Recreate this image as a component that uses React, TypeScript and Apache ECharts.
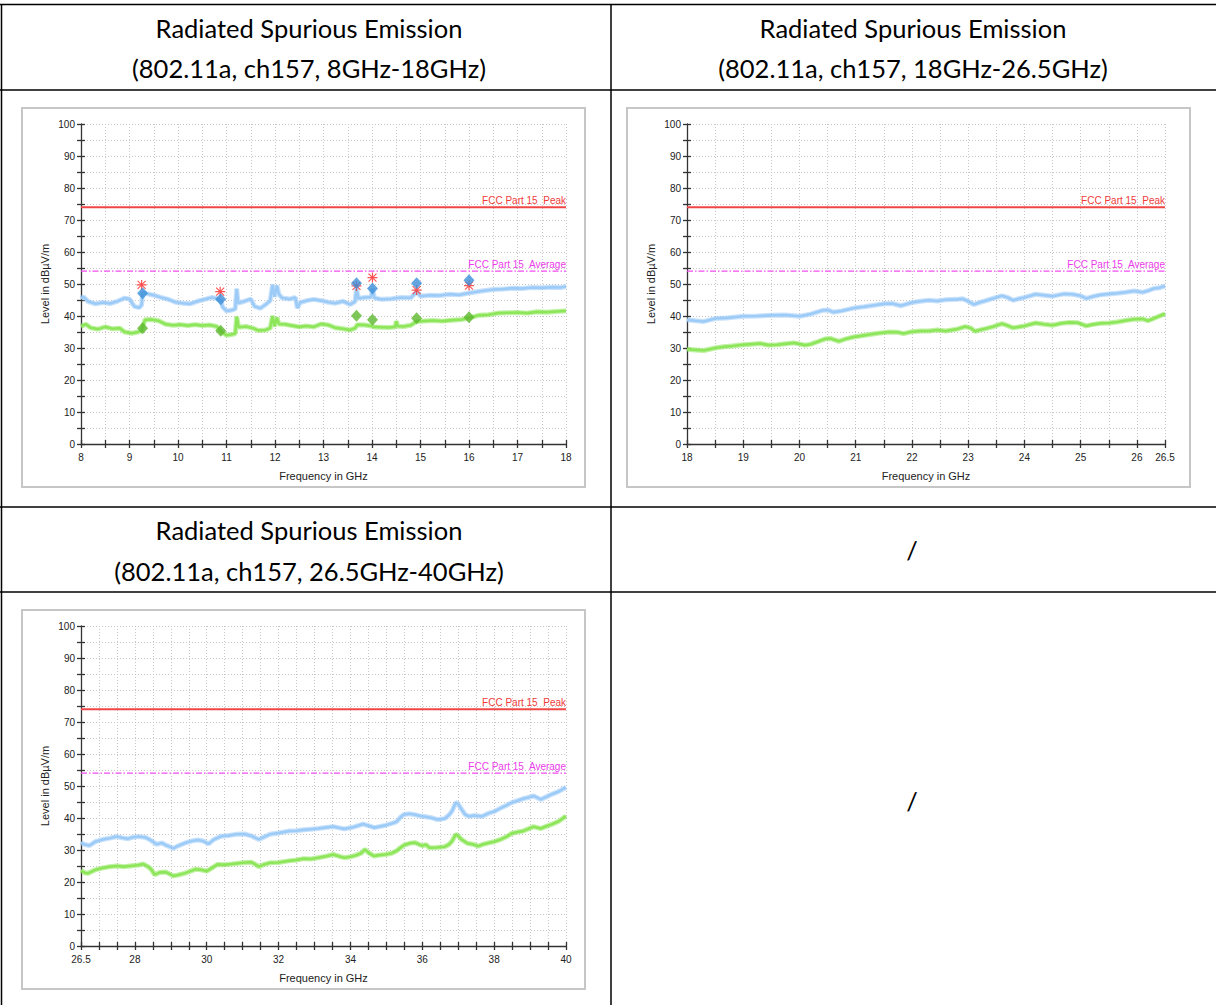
import { useEffect, useRef } from "react";
import * as echarts from "echarts";

// ---------- limits (dBµV/m) ----------
const peakLimit = 74;
const avgLimit = 54;
const peakLimitName = "FCC Part 15  Peak";
const avgLimitName = "FCC Part 15  Average";

// ---------- tick labels ----------
const levelLabels = [0, 10, 20, 30, 40, 50, 60, 70, 80, 90, 100];
const band1FreqLabels = [8, 9, 10, 11, 12, 13, 14, 15, 16, 17, 18];
const band2FreqLabels = [18, 19, 20, 21, 22, 23, 24, 25, 26, 26.5];
const band3FreqLabels = [26.5, 28, 30, 32, 34, 36, 38, 40];

// ---------- 8 GHz - 18 GHz ----------
const band1Peak: [number, number][] = [
  [8.0, 45.5], [8.05, 46.0], [8.15, 44.5], [8.3, 43.8], [8.45, 44.2], [8.6, 43.9], [8.75, 44.6],
  [8.9, 45.6], [9.0, 45.3], [9.1, 43.0], [9.2, 42.6], [9.25, 43.5], [9.27, 47.3], [9.35, 47.0],
  [9.5, 46.5], [9.65, 45.8], [9.8, 45.2], [9.95, 44.3], [10.1, 44.0], [10.25, 43.8], [10.4, 44.6],
  [10.55, 45.2], [10.7, 45.8], [10.8, 45.5], [10.86, 44.8], [10.88, 45.2], [10.92, 42.8], [11.0, 41.6],
  [11.1, 41.8], [11.18, 42.2], [11.21, 48.5], [11.24, 44.0], [11.35, 44.5], [11.5, 45.3], [11.58, 43.0],
  [11.7, 42.4], [11.8, 43.5], [11.9, 44.8], [11.95, 49.8], [11.99, 46.0], [12.04, 49.5], [12.08, 46.8],
  [12.15, 45.6], [12.3, 45.3], [12.42, 45.8], [12.46, 42.5], [12.52, 44.2], [12.65, 44.8], [12.8, 45.2],
  [12.95, 44.8], [13.1, 44.3], [13.25, 44.0], [13.4, 44.6], [13.55, 43.6], [13.65, 44.5], [13.68, 48.5],
  [13.72, 45.5], [13.85, 45.8], [13.98, 45.9], [14.01, 48.6], [14.05, 45.6], [14.2, 45.2], [14.4, 45.4],
  [14.6, 45.8], [14.8, 45.7], [14.92, 47.5], [15.0, 46.2], [15.2, 46.5], [15.4, 46.4], [15.6, 46.8],
  [15.8, 46.6], [16.0, 47.2], [16.1, 47.4], [16.3, 47.9], [16.5, 48.3], [16.7, 48.4], [16.9, 48.7],
  [17.1, 48.6], [17.3, 48.9], [17.5, 48.8], [17.7, 49.0], [17.9, 48.9], [18.0, 49.2],
];
const band1Avg: [number, number][] = [
  [8.0, 36.8], [8.1, 37.4], [8.2, 36.3], [8.35, 35.9], [8.5, 36.6], [8.65, 36.0], [8.8, 36.2],
  [8.9, 35.0], [9.05, 34.6], [9.15, 34.9], [9.25, 35.4], [9.27, 36.5], [9.32, 38.8], [9.45, 38.9],
  [9.6, 38.5], [9.75, 37.4], [9.9, 37.1], [10.05, 37.3], [10.2, 37.0], [10.35, 37.3], [10.5, 37.0],
  [10.65, 37.2], [10.8, 36.7], [10.86, 35.8], [10.9, 35.0], [11.0, 34.0], [11.1, 34.2], [11.18, 34.5],
  [11.21, 39.8], [11.25, 36.5], [11.4, 36.7], [11.55, 36.2], [11.65, 35.5], [11.8, 35.6], [11.9, 36.2],
  [11.95, 40.0], [11.99, 36.8], [12.04, 39.5], [12.08, 37.5], [12.2, 37.4], [12.35, 37.0], [12.5, 36.6],
  [12.65, 36.9], [12.8, 36.6], [12.95, 37.5], [13.1, 37.2], [13.25, 36.3], [13.4, 36.0], [13.54, 35.6],
  [13.65, 36.2], [13.7, 37.3], [13.85, 37.2], [13.98, 36.9], [14.05, 36.6], [14.2, 36.5], [14.35, 36.4],
  [14.48, 36.6], [14.5, 38.4], [14.53, 36.8], [14.65, 36.7], [14.8, 37.1], [14.92, 38.3], [15.05, 38.4],
  [15.25, 38.6], [15.45, 38.4], [15.65, 38.7], [15.85, 38.9], [16.0, 39.4], [16.2, 40.2], [16.4, 40.4],
  [16.6, 40.9], [16.8, 41.0], [17.0, 41.1], [17.2, 40.9], [17.4, 41.3], [17.6, 41.2], [17.8, 41.4],
  [18.0, 41.6],
];
// final measurement markers
const band1PeakStars: [number, number][] = [
  [9.25, 49.7], [10.87, 47.6], [13.68, 49.4], [14.01, 52.0], [14.92, 48.1], [16.0, 49.5],
];
const band1PeakFinal: [number, number][] = [
  [9.27, 47.1], [10.88, 45.2], [13.68, 50.2], [14.01, 48.6], [14.92, 50.2], [16.0, 51.2],
];
const band1AvgFinal: [number, number][] = [
  [9.27, 36.2], [10.88, 35.4], [13.68, 40.1], [14.01, 38.8], [14.92, 39.3], [16.0, 39.6],
];

// ---------- 18 GHz - 26.5 GHz ----------
const band2Peak: [number, number][] = [
  [18.0, 38.8], [18.15, 38.5], [18.3, 38.3], [18.5, 39.2], [18.7, 39.4], [19.0, 39.9], [19.25, 40.0],
  [19.5, 40.2], [19.75, 40.3], [20.0, 39.9], [20.2, 40.6], [20.4, 41.7], [20.5, 41.9], [20.6, 41.2],
  [20.75, 41.6], [21.0, 42.6], [21.15, 42.9], [21.3, 43.3], [21.5, 43.8], [21.65, 43.9], [21.8, 43.2],
  [22.0, 44.2], [22.15, 44.6], [22.3, 44.9], [22.45, 44.7], [22.6, 45.1], [22.8, 45.2], [22.9, 45.4],
  [23.0, 44.6], [23.1, 43.6], [23.2, 44.2], [23.35, 45.0], [23.5, 45.8], [23.6, 46.3], [23.7, 45.8],
  [23.8, 44.9], [23.9, 45.4], [24.0, 45.8], [24.2, 46.8], [24.35, 46.5], [24.5, 46.2], [24.7, 46.9],
  [24.85, 46.8], [25.0, 46.3], [25.1, 45.5], [25.2, 46.0], [25.35, 46.6], [25.5, 46.9], [25.65, 47.1],
  [25.8, 47.4], [25.95, 47.8], [26.1, 47.4], [26.2, 47.9], [26.3, 48.6], [26.4, 48.8], [26.5, 49.4],
];
const band2Avg: [number, number][] = [
  [18.0, 29.6], [18.15, 29.4], [18.3, 29.2], [18.5, 30.0], [18.65, 30.4], [18.8, 30.6], [19.0, 31.0],
  [19.15, 31.2], [19.3, 31.4], [19.45, 30.9], [19.6, 31.0], [19.75, 31.3], [19.9, 31.6], [20.1, 30.9],
  [20.2, 31.2], [20.3, 31.8], [20.45, 32.8], [20.55, 33.0], [20.7, 32.1], [20.8, 32.7], [20.95, 33.4],
  [21.1, 33.8], [21.25, 34.2], [21.4, 34.6], [21.6, 35.0], [21.75, 34.9], [21.85, 34.5], [22.0, 35.1],
  [22.15, 35.3], [22.3, 35.3], [22.45, 35.6], [22.6, 35.3], [22.8, 35.9], [22.95, 36.7], [23.05, 36.2],
  [23.12, 35.2], [23.2, 35.6], [23.3, 36.0], [23.45, 36.7], [23.6, 37.6], [23.7, 37.0], [23.8, 36.3],
  [23.9, 36.6], [24.0, 36.9], [24.2, 37.8], [24.35, 37.4], [24.5, 37.1], [24.65, 37.7], [24.8, 38.0],
  [24.95, 37.9], [25.1, 36.9], [25.2, 37.3], [25.35, 37.7], [25.5, 37.8], [25.65, 38.1], [25.8, 38.6],
  [25.95, 39.0], [26.1, 39.1], [26.2, 38.5], [26.35, 39.6], [26.5, 40.7],
];

// ---------- 26.5 GHz - 40 GHz ----------
const band3Peak: [number, number][] = [
  [26.5, 32.3], [26.6, 31.7], [26.74, 31.4], [26.9, 32.6], [27.1, 33.3], [27.3, 33.7], [27.5, 34.2],
  [27.65, 33.8], [27.8, 33.5], [27.95, 34.0], [28.1, 34.2], [28.3, 33.9], [28.45, 33.0], [28.6, 31.8],
  [28.75, 32.2], [28.86, 31.5], [29.0, 30.9], [29.07, 30.5], [29.2, 31.3], [29.4, 32.2], [29.58, 32.8],
  [29.75, 33.1], [29.9, 32.8], [30.05, 31.9], [30.2, 33.3], [30.4, 34.3], [30.6, 34.5], [30.83, 34.9],
  [31.05, 35.0], [31.24, 34.4], [31.45, 33.3], [31.6, 34.1], [31.76, 34.9], [32.0, 35.3], [32.28, 35.9],
  [32.5, 36.0], [32.7, 36.3], [32.9, 36.5], [33.1, 36.7], [33.3, 37.0], [33.52, 37.3], [33.7, 36.9],
  [33.83, 36.6], [34.1, 37.2], [34.35, 38.1], [34.5, 37.6], [34.66, 37.0], [34.8, 37.3], [34.97, 37.7],
  [35.15, 38.3], [35.28, 38.8], [35.4, 40.3], [35.49, 41.1], [35.65, 41.3], [35.8, 41.0], [35.95, 40.6],
  [36.1, 40.4], [36.25, 40.1], [36.42, 39.5], [36.62, 39.8], [36.75, 41.0], [36.83, 42.2], [36.93, 44.8],
  [36.99, 44.5], [37.1, 42.6], [37.19, 41.1], [37.3, 40.5], [37.45, 40.8], [37.66, 40.5], [37.87, 41.6],
  [38.0, 42.0], [38.18, 43.1], [38.35, 44.0], [38.49, 44.8], [38.65, 45.4], [38.8, 46.0], [38.95, 46.4],
  [39.1, 46.9], [39.3, 45.8], [39.45, 46.6], [39.6, 47.4], [39.8, 48.3], [40.0, 49.6],
];
const band3Avg: [number, number][] = [
  [26.5, 23.6], [26.6, 22.9], [26.69, 22.7], [26.9, 23.8], [27.1, 24.4], [27.3, 24.8], [27.5, 25.0],
  [27.7, 24.8], [27.93, 25.1], [28.1, 25.3], [28.24, 25.6], [28.35, 24.9], [28.45, 24.0], [28.55, 22.3],
  [28.7, 23.0], [28.86, 23.1], [29.0, 22.3], [29.07, 21.9], [29.2, 22.2], [29.38, 22.7], [29.55, 23.4],
  [29.69, 24.0], [29.85, 23.8], [30.0, 23.4], [30.15, 24.4], [30.3, 25.5], [30.5, 25.4], [30.7, 25.6],
  [30.83, 25.8], [31.0, 26.0], [31.24, 26.2], [31.4, 25.2], [31.45, 24.8], [31.6, 25.5], [31.76, 26.0],
  [32.0, 26.1], [32.28, 26.6], [32.5, 26.9], [32.7, 27.3], [32.9, 27.2], [33.1, 27.6], [33.3, 28.0],
  [33.52, 28.6], [33.7, 28.0], [33.83, 27.6], [34.0, 27.9], [34.14, 28.3], [34.3, 29.0], [34.4, 30.2],
  [34.5, 29.2], [34.66, 28.1], [34.8, 28.4], [34.97, 28.6], [35.15, 29.0], [35.28, 29.7], [35.4, 30.8],
  [35.49, 31.5], [35.65, 32.1], [35.8, 32.3], [35.9, 31.8], [36.0, 31.3], [36.1, 31.7], [36.2, 30.7],
  [36.4, 30.8], [36.62, 31.0], [36.75, 31.8], [36.83, 32.8], [36.93, 34.9], [37.0, 34.4], [37.09, 33.3],
  [37.25, 32.1], [37.4, 31.8], [37.56, 31.2], [37.7, 31.8], [37.87, 32.3], [38.0, 32.6], [38.18, 33.3],
  [38.35, 34.2], [38.49, 35.2], [38.65, 35.6], [38.8, 35.9], [38.95, 36.6], [39.1, 37.3], [39.3, 36.7],
  [39.45, 37.4], [39.6, 38.0], [39.8, 39.0], [40.0, 40.6],
];

// ---------- table text ----------
const captionTitle = "Radiated Spurious Emission";
const captionBand1 = "(802.11a, ch157, 8GHz-18GHz)";
const captionBand2 = "(802.11a, ch157, 18GHz-26.5GHz)";
const captionBand3 = "(802.11a, ch157, 26.5GHz-40GHz)";
const emptyCell = "/";

const W = 1216;
const H = 1005;

const AXIS_FONT = "'Liberation Sans', Arial, sans-serif";
const CAPTION_FONT = "Lato, 'Open Sans', sans-serif";
const PEAK_TRACE = "#9ccbf7";
const AVG_TRACE = "#8de65a";

type Panel = {
  grid: { left: number; top: number; width: number; height: number };
  frame: [number, number, number, number];
  xMin: number;
  xMax: number;
  xLabels: number[];
  peak: [number, number][];
  avg: [number, number][];
  stars?: [number, number][];
  peakFinal?: [number, number][];
  avgFinal?: [number, number][];
};

const panels: Panel[] = [
  {
    grid: { left: 81, top: 124, width: 485, height: 320 },
    frame: [22, 108, 563, 379],
    xMin: 8, xMax: 18, xLabels: band1FreqLabels,
    peak: band1Peak, avg: band1Avg,
    stars: band1PeakStars, peakFinal: band1PeakFinal, avgFinal: band1AvgFinal,
  },
  {
    grid: { left: 687, top: 124, width: 478, height: 320 },
    frame: [627, 108, 563, 379],
    xMin: 18, xMax: 26.5, xLabels: band2FreqLabels,
    peak: band2Peak, avg: band2Avg,
  },
  {
    grid: { left: 81, top: 626, width: 485, height: 320 },
    frame: [22, 610, 563, 379],
    xMin: 26.5, xMax: 40, xLabels: band3FreqLabels,
    peak: band3Peak, avg: band3Avg,
  },
];

// asterisk used for the peak detector readings
const STAR =
  "path://M0,4.4H10V5.6H0Z M4.4,0H5.6V10H4.4Z M0.6,1.4L1.4,0.6L9.4,8.6L8.6,9.4Z M8.6,0.6L9.4,1.4L1.4,9.4L0.6,8.6Z";

// a measured trace: soft outer band plus a solid core
function traceSeries(data: [number, number][], color: string, xi: number, yi: number) {
  return [
    {
      type: "line", xAxisIndex: xi, yAxisIndex: yi, data, symbol: "none", showSymbol: false,
      lineStyle: { color, width: 5, opacity: 0.55 }, z: 2, silent: true,
    },
    {
      type: "line", xAxisIndex: xi, yAxisIndex: yi, data, symbol: "none", showSymbol: false,
      lineStyle: { color, width: 2.6 }, z: 2, silent: true,
    },
  ];
}

// horizontal limit line with its name written above the right end
function limitSeries(
  level: number, name: string, xMin: number, xMax: number, xi: number, yi: number,
  lineStyle: any, textColor: string,
) {
  return {
    type: "line", xAxisIndex: xi, yAxisIndex: yi, silent: true,
    symbol: "circle", symbolSize: 0.01, showSymbol: true,
    itemStyle: { color: "transparent" },
    lineStyle, z: 3,
    data: [
      { value: [xMin, level], label: { show: false } },
      {
        value: [xMax, level],
        label: {
          show: true, position: "top", align: "right", distance: 2,
          formatter: name, color: textColor, fontFamily: AXIS_FONT, fontSize: 10,
        },
      },
    ],
  };
}

function buildOption() {
  const grid: any[] = [];
  const xAxis: any[] = [];
  const yAxis: any[] = [];
  const series: any[] = [];
  const graphic: any[] = [];

  const tickStyle = { color: "#333", width: 1.3 };

  panels.forEach((p, i) => {
    grid.push({ ...p.grid, containLabel: false });
    const xi = i * 2;
    const yi = i * 2;
    const labelSet = new Set(p.xLabels);
    xAxis.push(
      {
        type: "value", gridIndex: i, position: "bottom",
        min: p.xMin, max: p.xMax, interval: 0.5,
        name: "Frequency in GHz", nameLocation: "middle", nameGap: 26,
        nameTextStyle: { fontFamily: AXIS_FONT, fontSize: 11, color: "#222" },
        axisLine: { show: true, onZero: false, lineStyle: { color: "#333", width: 1.3 } },
        axisTick: { show: true, inside: false, length: 4, lineStyle: tickStyle },
        axisLabel: {
          show: true, margin: 8, fontFamily: AXIS_FONT, fontSize: 10, color: "#222",
          showMinLabel: true, showMaxLabel: true,
          formatter: (v: number) => (labelSet.has(v) ? String(v) : ""),
        },
        splitLine: { show: true, lineStyle: { color: "#c8c8c8", width: 1, type: [1, 2] } },
      },
      {
        type: "value", gridIndex: i, position: "bottom",
        min: p.xMin, max: p.xMax, interval: 0.5,
        axisLine: { show: false, onZero: false },
        axisTick: { show: true, inside: true, length: 4, lineStyle: tickStyle },
        axisLabel: { show: false },
        splitLine: { show: false },
      },
    );
    yAxis.push(
      {
        type: "value", gridIndex: i, position: "left",
        min: 0, max: 100, interval: 5,
        name: "Level in dBµV/m", nameLocation: "middle", nameGap: 31,
        nameTextStyle: { fontFamily: AXIS_FONT, fontSize: 11, color: "#222" },
        axisLine: { show: true, onZero: false, lineStyle: { color: "#333", width: 1.3 } },
        axisTick: { show: true, inside: false, length: 4, lineStyle: tickStyle },
        axisLabel: {
          show: true, margin: 6, fontFamily: AXIS_FONT, fontSize: 10, color: "#222",
          formatter: (v: number) => (levelLabels.includes(v) ? String(v) : ""),
        },
        splitLine: { show: true, lineStyle: { color: "#c8c8c8", width: 1, type: [1, 2] } },
      },
      {
        type: "value", gridIndex: i, position: "left",
        min: 0, max: 100, interval: 5,
        axisLine: { show: false, onZero: false },
        axisTick: { show: true, inside: true, length: 4, lineStyle: tickStyle },
        axisLabel: { show: false },
        splitLine: { show: false },
      },
    );

    series.push(...traceSeries(p.avg, AVG_TRACE, xi, yi));
    series.push(...traceSeries(p.peak, PEAK_TRACE, xi, yi));
    series.push(
      limitSeries(peakLimit, peakLimitName, p.xMin, p.xMax, xi, yi,
        { color: "#f04646", width: 2, type: "solid" }, "#f03a3a"),
      limitSeries(avgLimit, avgLimitName, p.xMin, p.xMax, xi, yi,
        { color: "#f24cf2", width: 1.2, type: [6, 2, 1.5, 2] }, "#ea3cea"),
    );
    if (p.stars) {
      series.push({
        type: "scatter", xAxisIndex: xi, yAxisIndex: yi,
        data: p.stars, symbol: STAR, symbolSize: 10,
        itemStyle: { color: "#ff2b2b" }, z: 4,
      });
    }
    if (p.peakFinal) {
      series.push({
        type: "scatter", xAxisIndex: xi, yAxisIndex: yi,
        data: p.peakFinal, symbol: "diamond", symbolSize: [11, 12],
        itemStyle: { color: "#3b8fd8" }, z: 5,
      });
    }
    if (p.avgFinal) {
      series.push({
        type: "scatter", xAxisIndex: xi, yAxisIndex: yi,
        data: p.avgFinal, symbol: "diamond", symbolSize: [11, 12],
        itemStyle: { color: "#5cb82e" }, z: 5,
      });
    }

    const [fx, fy, fw, fh] = p.frame;
    graphic.push({
      type: "rect", z: -10, silent: true,
      shape: { x: fx, y: fy, width: fw, height: fh },
      style: { fill: "#ffffff", stroke: "#c6c6c6", lineWidth: 2 },
    });
  });

  // table rules
  const rule = (x1: number, y1: number, x2: number, y2: number) => ({
    type: "line", silent: true, z: 10,
    shape: { x1, y1, x2, y2 },
    style: { stroke: "#000", lineWidth: 1.5 },
  });
  graphic.push(
    rule(0, 4.5, W, 4.5),
    rule(0, 90, W, 90),
    rule(0, 507, W, 507),
    rule(0, 592, W, 592),
    rule(1.5, 4.5, 1.5, H),
    rule(611, 4.5, 611, H),
  );

  const caption = (text: string, x: number, y: number) => ({
    type: "text", x, y, silent: true, z: 10,
    style: {
      text, fill: "#000", fontSize: 25.5, fontFamily: CAPTION_FONT,
      align: "center", verticalAlign: "middle",
    },
  });
  graphic.push(
    caption(captionTitle, 309, 28),
    caption(captionBand1, 309, 68),
    caption(captionTitle, 913, 28),
    caption(captionBand2, 913, 68),
    caption(captionTitle, 309, 530),
    caption(captionBand3, 309, 571),
    caption(emptyCell, 912, 550),
    caption(emptyCell, 912, 801),
  );

  return {
    animation: false,
    backgroundColor: "#ffffff",
    grid, xAxis, yAxis, series, graphic,
  };
}

export default function App() {
  const ref = useRef<HTMLDivElement>(null);
  useEffect(() => {
    if (!ref.current) return;
    const chart = echarts.init(ref.current, null, { renderer: "svg", width: W, height: H });
    chart.setOption(buildOption() as any);
    return () => chart.dispose();
  }, []);
  return (
    <div
      ref={ref}
      style={{ position: "fixed", left: 0, top: 0, width: W, height: H, background: "#fff" }}
    />
  );
}
